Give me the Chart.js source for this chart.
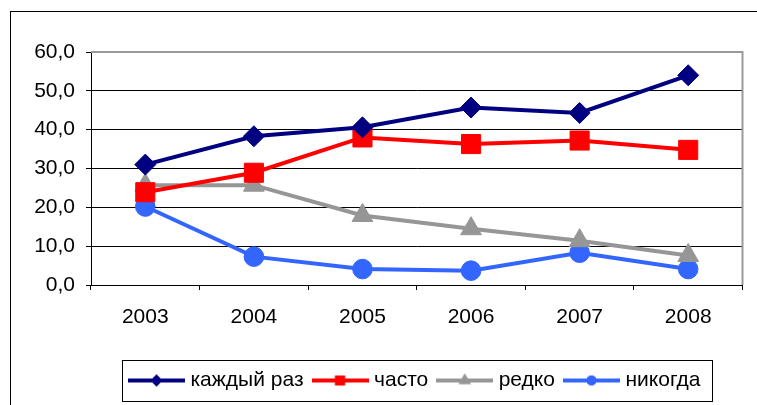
<!DOCTYPE html>
<html><head><meta charset="utf-8">
<script src="https://cdn.jsdelivr.net/npm/chart.js@4/dist/chart.umd.min.js"></script>
<style>
html,body{margin:0;padding:0;background:#fff;overflow:hidden;}
#wrap{position:relative;width:757px;height:405px;overflow:hidden;}
#frame{position:absolute;left:10px;top:11px;width:800px;height:500px;border:1px solid #000;box-sizing:border-box;}
canvas{position:absolute;left:0;top:0;}
</style></head><body>
<div id="wrap"><div id="frame"></div><canvas id="c" width="757" height="405"></canvas></div>
<script>
const years = ['2003','2004','2005','2006','2007','2008'];
const seriesNames = ['каждый раз','часто','редко','никогда'];
const everyTime = [31.0, 38.3, 40.6, 45.7, 44.3, 54.0];
const often = [23.9, 28.9, 38.0, 36.3, 37.2, 34.8];
const rarely = [25.7, 25.7, 17.9, 14.5, 11.4, 7.6];
const never = [20.2, 7.3, 4.1, 3.7, 8.3, 4.1];
const yMin = 0, yMax = 60, yStep = 10;

const FONT = '"Liberation Sans", Arial, sans-serif';
const styles = [
  {color:'#000080', point:'rectRot', r:10.5, lr:6},
  {color:'#FF0000', point:'rect', r:13.5, lr:7},
  {color:'#969696', point:'triangle', r:12, lr:7},
  {color:'#3366FF', point:'circle', r:9.8, lr:5}
];

function legendIcon(st){
  const c = document.createElement('canvas');
  c.width = 57; c.height = 22;
  const g = c.getContext('2d');
  g.strokeStyle = st.color; g.lineWidth = 4;
  g.beginPath(); g.moveTo(0,11); g.lineTo(57,11); g.stroke();
  g.fillStyle = st.color;
  Chart.helpers.drawPoint(g, {pointStyle: st.point, radius: st.lr, rotation: 0, borderWidth: 0}, 28.5, 11);
  g.fill();
  return c;
}

const seriesData = [everyTime, often, rarely, never];
const datasets = seriesData.map((d,i)=>({
  label: seriesNames[i],
  data: d,
  borderColor: styles[i].color,
  backgroundColor: styles[i].color,
  borderWidth: 4,
  pointStyle: styles[i].point,
  pointRadius: styles[i].r,
  pointHoverRadius: styles[i].r,
  pointBorderWidth: 1,
  pointBackgroundColor: styles[i].color,
  pointBorderColor: styles[i].color,
  tension: 0,
  fill: false
}));

const framePlugin = {
  id: 'framePlugin',
  beforeDatasetsDraw(chart){
    const a = chart.chartArea, ctx = chart.ctx;
    ctx.save();
    ctx.strokeStyle = '#999'; ctx.lineWidth = 2;
    ctx.beginPath();
    ctx.moveTo(a.left, a.top); ctx.lineTo(a.right, a.top); ctx.lineTo(a.right, a.bottom);
    ctx.stroke();
    ctx.restore();
  },
  afterDraw(chart){
    const hb = chart.legend.legendHitBoxes;
    if (!hb || !hb.length) return;
    let l = Infinity, r = -Infinity, cy = 0;
    hb.forEach(h=>{ l = Math.min(l, h.left); r = Math.max(r, h.left + h.width); cy += h.top + h.height/2; });
    cy /= hb.length;
    const ctx = chart.ctx;
    ctx.save();
    ctx.strokeStyle = '#000'; ctx.lineWidth = 1;
    ctx.strokeRect(Math.round(l - 11) + 0.5, Math.round(cy - 21) + 0.5, Math.round(r - l + 22), 41);
    ctx.restore();
  }
};

new Chart(document.getElementById('c'), {
  type: 'line',
  data: { labels: years, datasets },
  plugins: [framePlugin],
  options: {
    responsive: false,
    animation: false,
    devicePixelRatio: 1,
    layout: { padding: { top: 52, right: 11, left: 0, bottom: 4 } },
    plugins: {
      tooltip: { enabled: false },
      legend: {
        position: 'bottom',
        fullSize: false,
        labels: {
          usePointStyle: true,
          pointStyleWidth: 47,
          padding: 13,
          color: '#000',
          font: { family: FONT, size: 21 },
          generateLabels(chart){
            return chart.data.datasets.map((ds,i)=>({
              text: ds.label,
              pointStyle: legendIcon(styles[i]),
              fillStyle: ds.borderColor,
              strokeStyle: ds.borderColor,
              lineWidth: 0,
              datasetIndex: i,
              hidden: false,
              fontColor: '#000'
            }));
          }
        }
      }
    },
    scales: {
      x: {
        offset: true,
        grid: { drawOnChartArea: false, offset: true, color: '#000', tickLength: 5, lineWidth: 1 },
        border: { color: '#000', width: 1 },
        ticks: { color: '#000', font: { family: FONT, size: 21 }, padding: 15, maxRotation: 0 },
        afterFit(s){ s.height = 72; }
      },
      y: {
        min: yMin, max: yMax,
        grid: {
          color: c => (c.tick && c.tick.value === yMax) ? 'rgba(0,0,0,0)' : '#000',
          tickColor: '#000',
          tickLength: 5,
          lineWidth: 1
        },
        border: { color: '#000', width: 1 },
        ticks: {
          stepSize: yStep,
          color: '#000',
          padding: 11,
          font: { family: FONT, size: 21 },
          callback: v => v.toFixed(1).replace('.', ',')
        },
        afterFit(s){ s.width = 91; }
      }
    }
  }
});
</script>
</body></html>
